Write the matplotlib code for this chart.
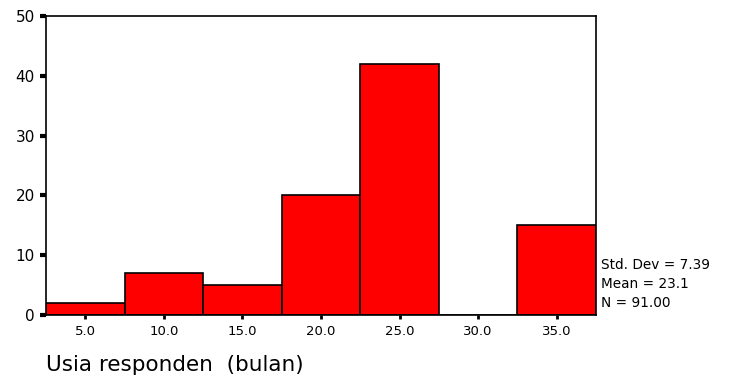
import matplotlib
matplotlib.use("Agg")
import matplotlib.pyplot as plt

# Data
bin_centers = [5.0, 10.0, 15.0, 20.0, 25.0, 30.0, 35.0]
counts = [2, 7, 5, 20, 42, 0, 15]
xtick_labels = ["5.0", "10.0", "15.0", "20.0", "25.0", "30.0", "35.0"]
yticks = [0, 10, 20, 30, 40, 50]
stats_lines = ["Std. Dev = 7.39", "Mean = 23.1", "N = 91.00"]
xlabel = "Usia responden  (bulan)"

plt.rcParams['font.family'] = ['DejaVu Sans']

W, H = 744, 376
fig = plt.figure(figsize=(W / 100, H / 100), dpi=100)
ax = fig.add_axes([46 / W, 1 - 315 / H, (596 - 46) / W, (315 - 16) / H])

ax.bar(bin_centers, counts, width=5.0, color="#ff0000", edgecolor="black",
       linewidth=1.2, align="center", zorder=2)

ax.set_xlim(2.5, 37.5)
ax.set_ylim(0, 50)
ax.set_xticks(bin_centers)
ax.set_xticklabels(xtick_labels, fontsize=9.5)
ax.set_yticks(yticks)
ax.set_yticklabels([str(v) for v in yticks], fontsize=11)
ax.tick_params(axis="y", direction="out", length=4, width=3, pad=4)
ax.tick_params(axis="x", direction="out", length=3, width=2, pad=4)
for s in ax.spines.values():
    s.set_linewidth(1.2)
    s.set_color("black")

fig.text(46 / W, 1 - 365 / H, xlabel, fontsize=15.5, ha="left", va="center")

for i, line in enumerate(stats_lines):
    y = 265 + 19 * i
    fig.text(601 / W, 1 - y / H, line, fontsize=9.8, ha="left", va="center")

fig.savefig("out.png", dpi=100)
